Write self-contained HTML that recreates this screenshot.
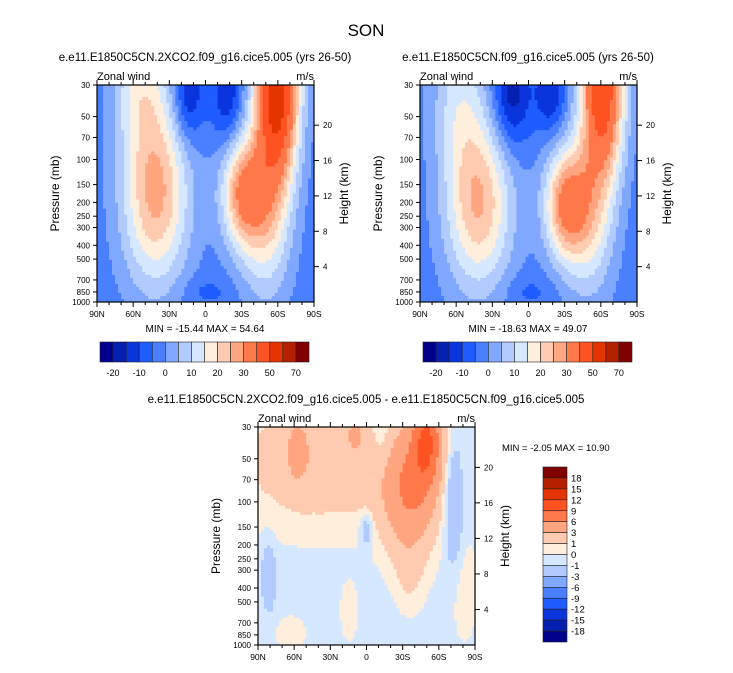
<!DOCTYPE html>
<html><head><meta charset="utf-8">
<style>
body{margin:0;background:#fff;width:733px;height:668px;overflow:hidden}
svg{font-family:"Liberation Sans",sans-serif}
</style></head><body>
<svg id="fig" width="733" height="668" viewBox="0 0 733 668">
<text x="366" y="36" text-anchor="middle" font-size="17">SON</text>
</svg>
<script>
// ---- data ----
const latLabels = ["90N","60N","30N","0","30S","60S","90S"];
const pressureTicks = [30,50,70,100,150,200,250,300,400,500,700,850,1000];
const heightTicks = [4,8,12,16,20];
const levelsAbs = [-20,-15,-10,-5,0,5,10,15,20,25,30,40,50,60,70];
const levelsAbsLabels = ["-20","-10","0","10","20","30","50","70"];
const levelsDiff = [-18,-15,-12,-9,-6,-3,-1,0,1,3,6,9,12,15,18];
const colors = ["#00008a","#0520b0","#0a34dc","#1f5cff","#4a80ff","#80a8ff","#b2cbff","#d6e8ff","#ffeedc","#ffcbb0","#ffa680","#ff784a","#ff5222","#e43400","#b42000","#800000"];
// field blobs: panel 1 (2XCO2)
const p1Base = -3;
const p1X   = [0.27,0.20,0.42,0.60,0.83,0.67,0.78,0.50];
const p1Y   = [0.50,0.00,0.05,0.05,0.00,0.50,0.60,0.95];
const p1SX  = [0.11,0.09,0.05,0.05,0.07,0.07,0.08,0.08];
const p1SY  = [0.30,0.20,0.15,0.15,0.30,0.18,0.28,0.05];
const p1Amp = [30,15,-14,-12,60,30,20,-4];
// panel 2 (control)
const p2Base = -3;
const p2X   = [0.27,0.18,0.42,0.60,0.84,0.67,0.78,0.50];
const p2Y   = [0.55,0.05,0.05,0.05,0.00,0.55,0.62,0.95];
const p2SX  = [0.11,0.09,0.06,0.05,0.07,0.07,0.08,0.08];
const p2SY  = [0.28,0.25,0.17,0.12,0.30,0.18,0.26,0.05];
const p2Amp = [28,13,-16,-12,52,32,18,-4];
// panel 3 (difference)
const p3Base = -0.5;
const p3X   = [0.30,0.70,0.78,0.57,0.90,0.05,0.50,0.70,0.15,0.42,0.18,0.45,0.95];
const p3Y   = [0.15,0.30,0.05,0.04,0.35,0.68,0.47,0.70,0.95,0.85,0.10,0.03,0.75];
const p3SX  = [0.30,0.09,0.05,0.03,0.03,0.02,0.02,0.05,0.05,0.03,0.04,0.03,0.05];
const p3SY  = [0.22,0.20,0.15,0.12,0.20,0.10,0.05,0.12,0.06,0.10,0.12,0.06,0.20];
const p3Amp = [2.8,6,8,-1.5,-3,-2.5,-2.5,1.2,1.3,1.2,2,2,1.0];

const NS="http://www.w3.org/2000/svg";
const svg=document.getElementById('fig');
function mk(tag,attrs,parent){const e=document.createElementNS(NS,tag);for(const k in attrs)e.setAttribute(k,attrs[k]);(parent||svg).appendChild(e);return e;}
function txt(x,y,s,size,anchor,parent){const t=mk('text',{x:x,y:y,'font-size':size,'text-anchor':anchor||'middle'},parent);t.textContent=s;return t;}
function field(base,X,Y,SX,SY,A,x,y){let v=base;for(let i=0;i<X.length;i++){const dx=(x-X[i])/SX[i],dy=(y-Y[i])/SY[i];v+=A[i]*Math.exp(-0.5*(dx*dx+dy*dy));}return v;}
function cls(v,lv){let k=0;while(k<lv.length&&v>=lv[k])k++;return k;}
function yP(p,top,h){return top+h*Math.log(p/30)/Math.log(1000/30);}

function panel(L,T,W,H,f,lv,name){
  const g=mk('g',{});
  
  
  const N=72,cw=W/N,ch=H/N;
  for(let i=0;i<N;i++)for(let j=0;j<N;j++){
    const v=f((i+0.5)/N,(j+0.5)/N);
    const r=mk('rect',{x:(L+i*cw).toFixed(2),y:(T+j*ch).toFixed(2),width:(cw+0.4).toFixed(2),height:(ch+0.4).toFixed(2),fill:colors[cls(v,lv)]},g);
    
    
  }
  mk('rect',{x:L,y:T,width:W,height:H,fill:'none',stroke:'#000','stroke-width':1.2},g);
  latLabels.forEach((s,k)=>{const x=L+W*k/6;mk('line',{x1:x,y1:T+H,x2:x,y2:T+H+5,stroke:'#000'},g);mk('line',{x1:x,y1:T,x2:x,y2:T-5,stroke:'#000'},g);
    const t=txt(x,T+H+15,s,8.5,'middle',g);
    if(k<6)for(let m=1;m<3;m++){const xm=x+W/6*m/3;mk('line',{x1:xm,y1:T+H,x2:xm,y2:T+H+3,stroke:'#000'},g);mk('line',{x1:xm,y1:T,x2:xm,y2:T-3,stroke:'#000'},g);}});
  pressureTicks.forEach(p=>{const y=yP(p,T,H);mk('line',{x1:L,y1:y,x2:L-4,y2:y,stroke:'#000'},g);
    const t=txt(L-7,y+3,String(p),8,'end',g);});
  heightTicks.forEach(z=>{const p=1000*Math.exp(-z/7);const y=yP(p,T,H);mk('line',{x1:L+W,y1:y,x2:L+W+5,y2:y,stroke:'#000'},g);
    const t=txt(L+W+9,y+3,String(z),8,'start',g);});
  const a=txt(L-38,T+H/2,'Pressure (mb)',12,'middle',g);a.setAttribute('transform',`rotate(-90 ${L-38} ${T+H/2})`);
  const b=txt(L+W+34,T+H/2,'Height (km)',12,'middle',g);b.setAttribute('transform',`rotate(-90 ${L+W+34} ${T+H/2})`);
  const z1=txt(L,T-5,'Zonal wind',11,'start',g);
  const z2=txt(L+W,T-5,'m/s',11,'end',g);
}
const f1=(x,y)=>field(p1Base,p1X,p1Y,p1SX,p1SY,p1Amp,x,y);
const f2=(x,y)=>field(p2Base,p2X,p2Y,p2SX,p2SY,p2Amp,x,y);
const f3=(x,y)=>field(p3Base,p3X,p3Y,p3SX,p3SY,p3Amp,x,y);
panel(97,85,217,217,f1,levelsAbs,'panel-2xco2');
panel(420,85,217,217,f2,levelsAbs,'panel-control');
panel(258,427,217,218,f3,levelsDiff,'panel-difference');

let t;
t=txt(205,61,'e.e11.E1850C5CN.2XCO2.f09_g16.cice5.005 (yrs 26-50)',11.5);
t=txt(528,61,'e.e11.E1850C5CN.f09_g16.cice5.005 (yrs 26-50)',11.5);
t=txt(366,403,'e.e11.E1850C5CN.2XCO2.f09_g16.cice5.005 - e.e11.E1850C5CN.f09_g16.cice5.005',11.5);
t=txt(205,332,'MIN = -15.44  MAX =  54.64',10);
t=txt(528,332,'MIN = -18.63  MAX =  49.07',10);
t=txt(502,451,'MIN =  -2.05  MAX =  10.90',9.5,'start');

function hbar(L,name){
  const g=mk('g',{});
  const w=209/16;
  colors.forEach((c,i)=>{const r=mk('rect',{x:L+i*w,y:342,width:w,height:20,fill:c,stroke:'#222','stroke-width':0.6},g);});
  levelsAbsLabels.forEach((s,k)=>{const x=L+w*(1+2*k);const tt=txt(x,376,s,9,'middle',g);});
}
hbar(100,'colorbar-panel1');hbar(423,'colorbar-panel2');
(function(){
  const g=mk('g',{});
  const h=175/16;
  for(let i=0;i<16;i++){const r=mk('rect',{x:543,y:467+i*h,width:24,height:h,fill:colors[15-i],stroke:'#222','stroke-width':0.6},g);}
  for(let k=0;k<15;k++){const tt=txt(571,467+h*(k+1)+3.5,String(levelsDiff[14-k]),9.5,'start',g);}
})();
</script>
</body></html>
